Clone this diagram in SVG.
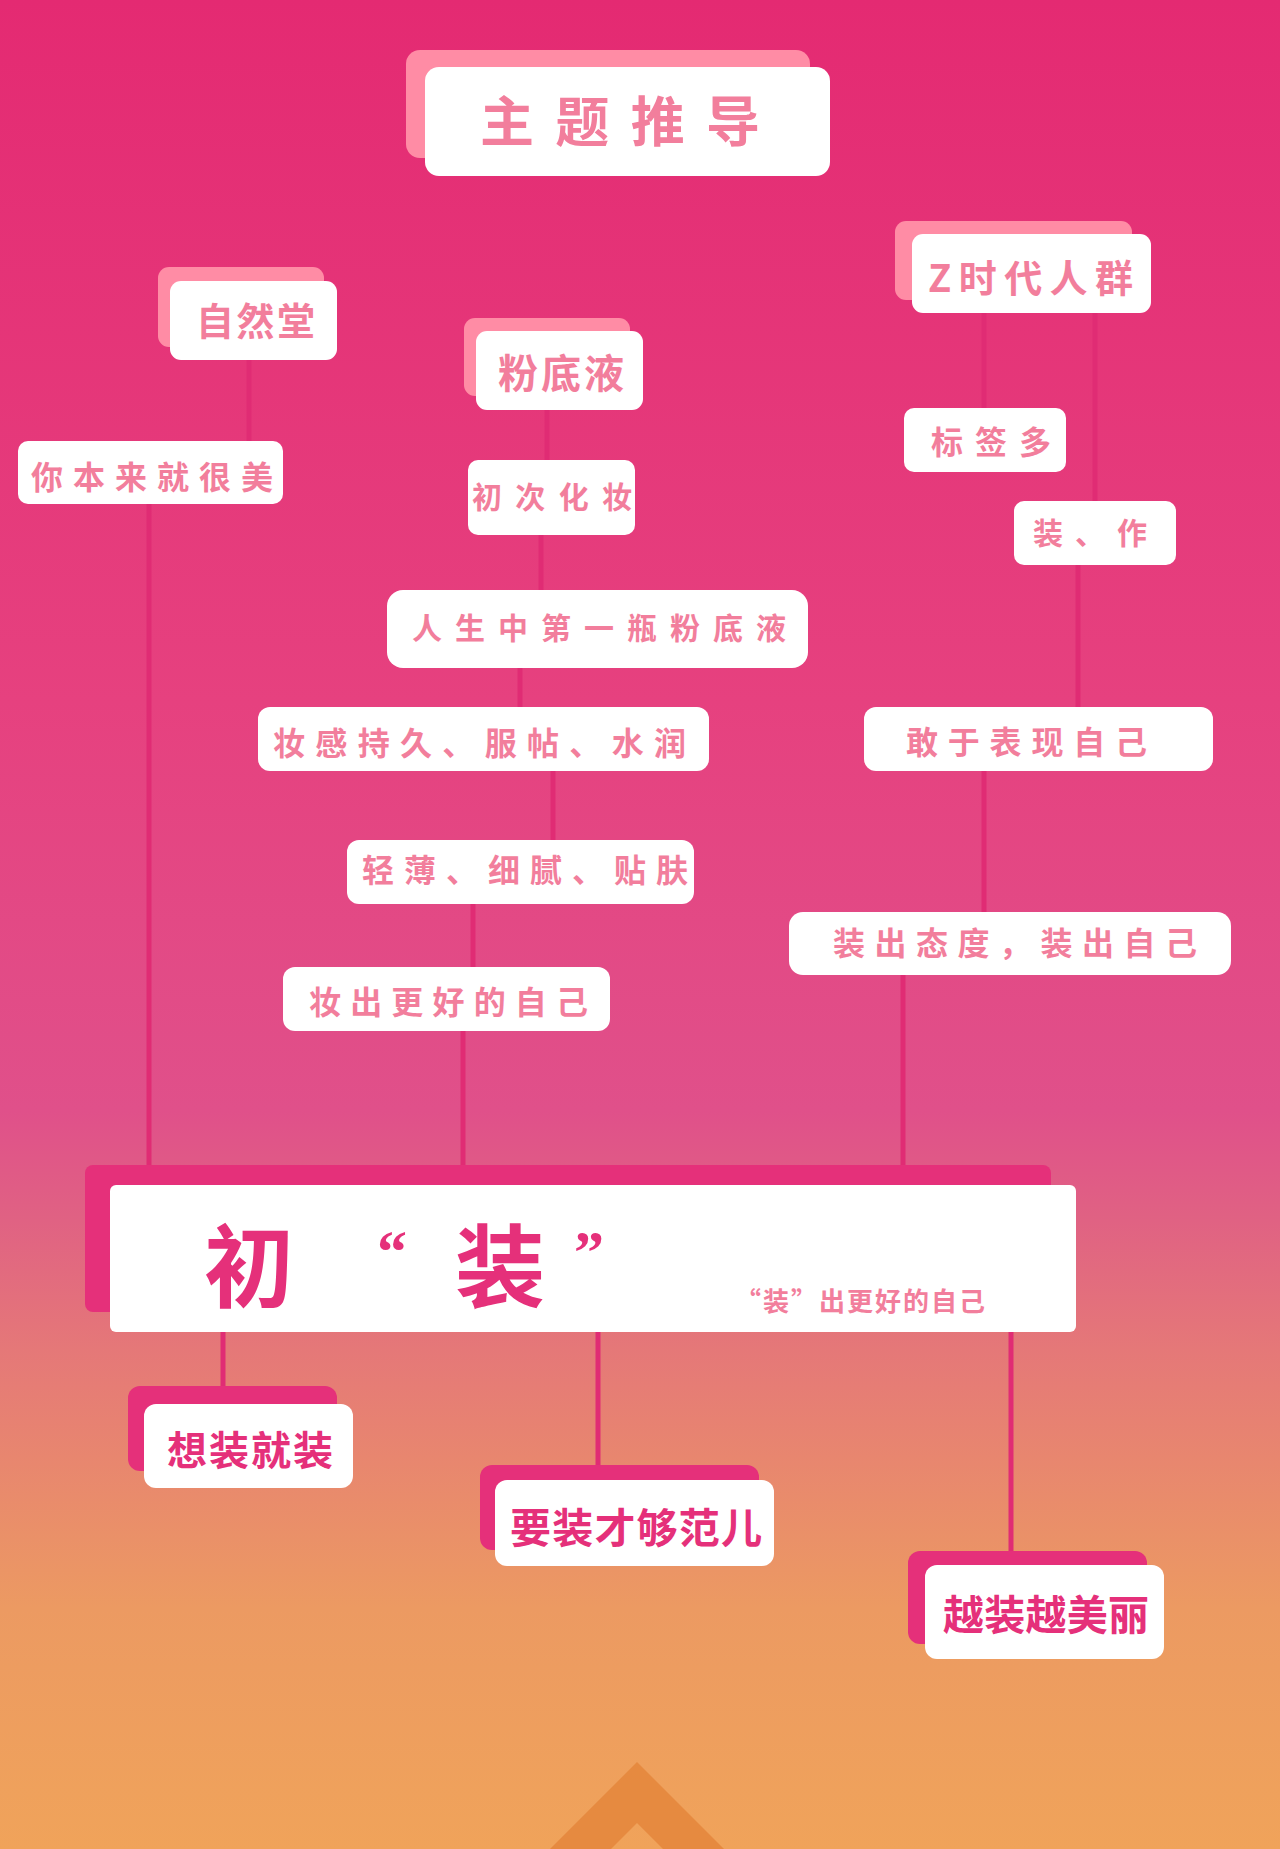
<svg xmlns="http://www.w3.org/2000/svg" width="1280" height="1849" viewBox="0 0 1280 1849">
<defs>
<linearGradient id="bg" x1="0" y1="0" x2="0" y2="1">
<stop offset="0" stop-color="#E42A72"/>
<stop offset="0.38" stop-color="#E6417F"/>
<stop offset="0.6" stop-color="#E0508A"/>
<stop offset="0.66" stop-color="#E06283"/>
<stop offset="0.73" stop-color="#E57878"/>
<stop offset="0.87" stop-color="#EC9A62"/>
<stop offset="1" stop-color="#F0A35A"/>
</linearGradient>
<style>
.w{fill:#FFFFFF}
.lb{fill:#FF8CA5}
.db{fill:#E5307A}
.t{font-family:"Noto Sans CJK SC","Noto Sans",sans-serif;font-weight:bold;fill:#F27E9C}
.d{font-family:"Noto Sans CJK SC","Noto Sans",sans-serif;font-weight:bold;fill:#E5307A}
.q{font-family:"Liberation Serif",serif;font-weight:bold;fill:#E5307A}
.c{stroke:#E02C74;stroke-width:5;fill:none}
</style>
</defs>
<rect x="0" y="0" width="1280" height="1849" fill="url(#bg)"/>
<path d="M550 1849 L637 1762 L724 1849 Z M611 1849 L637 1823 L663 1849 Z" fill="#E68A40" fill-rule="evenodd"/>
<g id="connectors">
<line class="c" x1="249" y1="360" x2="249" y2="441"/>
<line class="c" x1="149" y1="504" x2="149" y2="1166"/>
<line class="c" x1="547" y1="410" x2="547" y2="460"/>
<line class="c" x1="541" y1="535" x2="541" y2="590"/>
<line class="c" x1="520" y1="668" x2="520" y2="707"/>
<line class="c" x1="553" y1="771" x2="553" y2="840"/>
<line class="c" x1="473" y1="904" x2="473" y2="967"/>
<line class="c" x1="463" y1="1031" x2="463" y2="1166"/>
<line class="c" x1="984" y1="313" x2="984" y2="408"/>
<line class="c" x1="1095" y1="313" x2="1095" y2="501"/>
<line class="c" x1="1078" y1="565" x2="1078" y2="707"/>
<line class="c" x1="984" y1="771" x2="984" y2="912"/>
<line class="c" x1="903" y1="975" x2="903" y2="1166"/>
<line class="c" x1="223" y1="1332" x2="223" y2="1386"/>
<line class="c" x1="598" y1="1332" x2="598" y2="1465"/>
<line class="c" x1="1011" y1="1332" x2="1011" y2="1551"/>
</g>
<g id="title">
<rect class="lb" x="406" y="50" width="404" height="108" rx="14"/>
<rect class="w" x="425" y="67" width="405" height="109" rx="14"/>
<text class="t" x="480" y="142" font-size="54" textLength="280" lengthAdjust="spacing">主题推导</text>
</g>
<g id="n-zirantang">
<rect class="lb" x="158" y="267" width="166" height="80" rx="11"/>
<rect class="w" x="170" y="281" width="167" height="79" rx="11"/>
<text class="t" x="196" y="335" font-size="38" textLength="119" lengthAdjust="spacing">自然堂</text>
</g>
<g id="n-fendiye">
<rect class="lb" x="464" y="318" width="166" height="78" rx="11"/>
<rect class="w" x="476" y="331" width="167" height="79" rx="11"/>
<text class="t" x="498" y="388" font-size="40" textLength="126" lengthAdjust="spacing">粉底液</text>
</g>
<g id="n-zgen">
<rect class="lb" x="895" y="221" width="237" height="79" rx="11"/>
<rect class="w" x="912" y="234" width="239" height="79" rx="11"/>
<text class="t" x="928" y="292" font-size="38" textLength="205" lengthAdjust="spacing">Z时代人群</text>
</g>
<g id="n-nibenlai">
<rect class="w" x="18" y="441" width="265" height="63" rx="10"/>
<text class="t" x="31" y="489" font-size="32" textLength="242" lengthAdjust="spacing">你本来就很美</text>
</g>
<g id="n-chuci">
<rect class="w" x="468" y="460" width="167" height="75" rx="10"/>
<text class="t" x="472" y="508" font-size="30" textLength="160" lengthAdjust="spacing">初次化妆</text>
</g>
<g id="n-biaoqian">
<rect class="w" x="904" y="408" width="162" height="64" rx="10"/>
<text class="t" x="931" y="454" font-size="32" textLength="120" lengthAdjust="spacing">标签多</text>
</g>
<g id="n-zhuangzuo">
<rect class="w" x="1014" y="501" width="162" height="64" rx="10"/>
<text class="t" x="1033" y="544" font-size="30" textLength="114" lengthAdjust="spacing">装、作</text>
</g>
<g id="n-rensheng">
<rect class="w" x="387" y="590" width="421" height="78" rx="16"/>
<text class="t" x="412" y="639" font-size="30" textLength="374" lengthAdjust="spacing">人生中第一瓶粉底液</text>
</g>
<g id="n-zhuanggan">
<rect class="w" x="258" y="707" width="451" height="64" rx="12"/>
<text class="t" x="273" y="755" font-size="32" textLength="413" lengthAdjust="spacing">妆感持久、服帖、水润</text>
</g>
<g id="n-qingbo">
<rect class="w" x="347" y="840" width="347" height="64" rx="12"/>
<text class="t" x="362" y="882" font-size="32" textLength="326" lengthAdjust="spacing">轻薄、细腻、贴肤</text>
</g>
<g id="n-zhuangchu">
<rect class="w" x="283" y="967" width="327" height="64" rx="12"/>
<text class="t" x="309" y="1014" font-size="32" textLength="279" lengthAdjust="spacing">妆出更好的自己</text>
</g>
<g id="n-ganyu">
<rect class="w" x="864" y="707" width="349" height="64" rx="12"/>
<text class="t" x="906" y="754" font-size="32" textLength="241" lengthAdjust="spacing">敢于表现自己</text>
</g>
<g id="n-taidu">
<rect class="w" x="789" y="912" width="442" height="63" rx="14"/>
<text class="t" x="833" y="955" font-size="32" textLength="364" lengthAdjust="spacing">装出态度，装出自己</text>
</g>
<g id="n-main">
<rect class="db" x="85" y="1165" width="966" height="147" rx="8"/>
<rect class="w" x="110" y="1185" width="966" height="147" rx="6"/>
<text class="d" x="204" y="1300" font-size="90">初</text>
<text class="q" x="377" y="1272" font-size="60">“</text>
<text class="d" x="455" y="1300" font-size="90">装</text>
<text class="q" x="574" y="1272" font-size="60">”</text>
<text class="t" x="735" y="1311" font-size="26" textLength="250" lengthAdjust="spacing">“装”出更好的自己</text>
</g>
<g id="n-xiang">
<rect class="db" x="128" y="1386" width="209" height="85" rx="12"/>
<rect class="w" x="144" y="1404" width="209" height="84" rx="12"/>
<text class="d" x="167" y="1465" font-size="40" textLength="166" lengthAdjust="spacing">想装就装</text>
</g>
<g id="n-yao">
<rect class="db" x="480" y="1465" width="279" height="85" rx="12"/>
<rect class="w" x="495" y="1480" width="279" height="86" rx="12"/>
<text class="d" x="510" y="1543" font-size="41" textLength="252" lengthAdjust="spacing">要装才够范儿</text>
</g>
<g id="n-yue">
<rect class="db" x="908" y="1551" width="239" height="93" rx="12"/>
<rect class="w" x="925" y="1565" width="239" height="94" rx="12"/>
<text class="d" x="943" y="1630" font-size="41" textLength="206" lengthAdjust="spacing">越装越美丽</text>
</g>
</svg>
